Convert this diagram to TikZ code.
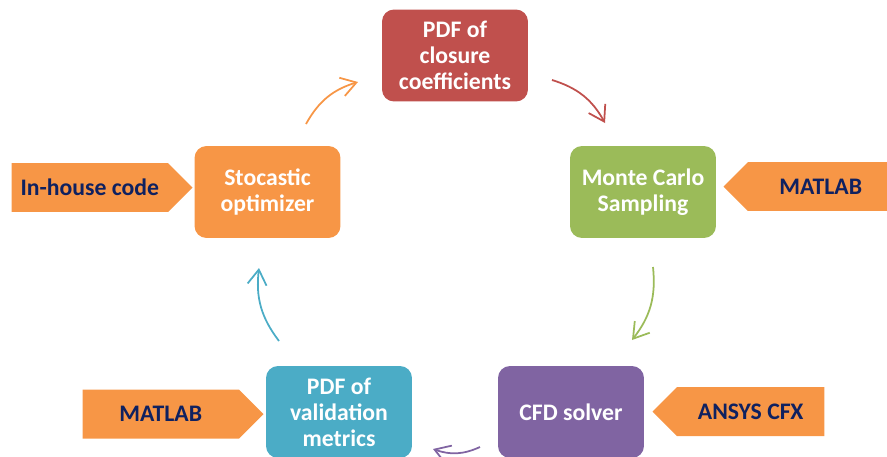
\documentclass[tikz,border=0pt]{standalone}
\usepackage{fontspec}
\setmainfont{Carlito}
\usetikzlibrary{shapes.symbols,arrows.meta}
\definecolor{boxred}{HTML}{C0504D}
\definecolor{boxgreen}{HTML}{9BBB59}
\definecolor{boxpurple}{HTML}{8064A2}
\definecolor{boxblue}{HTML}{4BACC6}
\definecolor{boxorange}{HTML}{F79646}
\definecolor{toolnavy}{HTML}{0F2160}

\begin{document}
\begin{tikzpicture}[x=0.02cm,y=-0.02cm,
	stepbox/.style={fill=#1, rounded corners=0.24cm, minimum width=2.92cm, minimum height=1.84cm,
		text=white, align=center, font=\bfseries\fontsize{13.5}{14.8}\selectfont},
	toolsign/.style={signal, signal pointer angle=90, fill=boxorange, text=toolnavy,
		minimum height=0.98cm, inner sep=0pt, font=\bfseries\fontsize{13.5}{14.8}\selectfont},
	flow/.style={draw=#1, line width=1pt, -{Straight Barb[length=0.3cm,width=0.38cm]}, bend left=22}
	]
	\useasboundingbox (0,0) rectangle (887,457);
	
	% main loop
	\node[stepbox=boxred] (closure) at (455,55.5) {PDF of\\closure\\coefficients};
	\node[stepbox=boxgreen] (sampling) at (643,192) {Monte Carlo\\Sampling};
	\node[stepbox=boxpurple] (solver) at (571,412) {CFD solver};
	\node[stepbox=boxblue] (metrics) at (339,412) {PDF of\\validation\\metrics};
	\node[stepbox=boxorange] (optimizer) at (267.5,192) {Stocastic\\optimizer};
	
	% tools
	\node[toolsign, signal to=east, minimum width=3.62cm, anchor=east] (inhouse) at (193,187.5) {In-house code};
	\node[toolsign, signal to=west, minimum width=3.4cm, anchor=west] (matlabmc) at (723,186.5) {MATLAB};
	\node[toolsign, signal to=west, minimum width=3.44cm, anchor=west] (ansys) at (652,411.5) {ANSYS CFX};
	\node[toolsign, signal to=east, minimum width=3.62cm, anchor=east] (matlabval) at (264,414) {MATLAB};
	
	% arrows
	\coordinate (a1) at (306,124); \coordinate (b1) at (358,82);
	\coordinate (a2) at (552,80); \coordinate (b2) at (605,123);
	\coordinate (a3) at (653,267); \coordinate (b3) at (632,340);
	\coordinate (a4) at (480,447); \coordinate (b4) at (433,449);
	\coordinate (a5) at (279,341); \coordinate (b5) at (259,268);
	\draw[flow=boxorange] (a1) to (b1);
	\draw[flow=boxred] (a2) to (b2);
	\draw[flow=boxgreen] (a3) to (b3);
	\draw[flow=boxpurple] (a4) to (b4);
	\draw[flow=boxblue] (a5) to (b5);
\end{tikzpicture}
\end{document}
